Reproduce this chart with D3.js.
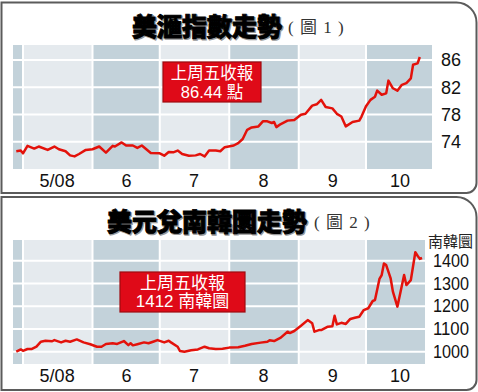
<!DOCTYPE html>
<html>
<head>
<meta charset="utf-8">
<script src="https://cdn.jsdelivr.net/npm/d3@7"></script>
<style>
  body { margin: 0; background: #fff; }
  svg { display: block; }
</style>
</head>
<body>
<div id="chart"></div>
<script>
// US dollar index, closing values
const dxyDates = [
  "2008-04-28", "2008-04-30", "2008-05-01", "2008-05-03", "2008-05-06", "2008-05-08", "2008-05-12", "2008-05-15",
  "2008-05-17", "2008-05-20", "2008-05-22", "2008-05-24", "2008-05-26", "2008-05-29",
  "2008-06-01", "2008-06-04", "2008-06-07", "2008-06-10", "2008-06-11", "2008-06-14", "2008-06-16", "2008-06-19",
  "2008-06-21", "2008-06-23", "2008-06-25", "2008-06-27",
  "2008-07-01", "2008-07-03", "2008-07-05", "2008-07-07", "2008-07-09", "2008-07-11", "2008-07-14", "2008-07-17",
  "2008-07-19", "2008-07-21", "2008-07-23", "2008-07-26", "2008-07-28", "2008-07-30",
  "2008-08-03", "2008-08-05", "2008-08-07", "2008-08-09", "2008-08-11", "2008-08-14", "2008-08-16", "2008-08-18",
  "2008-08-20", "2008-08-21", "2008-08-22", "2008-08-24", "2008-08-27", "2008-08-30",
  "2008-09-02", "2008-09-04", "2008-09-07", "2008-09-09", "2008-09-11", "2008-09-13", "2008-09-16", "2008-09-18",
  "2008-09-20", "2008-09-22", "2008-09-25", "2008-09-28", "2008-09-29",
  "2008-10-01", "2008-10-03", "2008-10-05", "2008-10-06", "2008-10-08", "2008-10-10", "2008-10-11", "2008-10-13",
  "2008-10-15", "2008-10-17", "2008-10-19", "2008-10-21", "2008-10-22", "2008-10-24", "2008-10-25"
];
const dxyValues = [
  72.6, 72.7, 72.3, 73.4, 73.0, 73.3, 72.8, 73.3, 72.9, 72.6,
  72.0, 71.85, 72.2, 72.8, 72.9, 73.3, 72.4, 73.4, 73.3, 73.9,
  73.45, 73.45, 73.1, 73.45, 72.9, 72.35, 72.3, 71.95, 72.5, 72.45,
  72.7, 72.2, 71.95, 72.0, 72.2, 71.85, 72.7, 72.7, 72.6, 73.2,
  73.45, 73.8, 74.4, 75.75, 76.1, 76.25, 77.0, 77.0, 76.75, 76.9,
  76.15, 76.6, 77.1, 77.2, 77.95, 78.1, 79.3, 79.5, 80.15, 79.1,
  78.9, 78.1, 77.7, 76.25, 76.9, 77.1, 77.7, 79.2, 80.15, 80.6,
  81.5, 80.9, 81.1, 82.97, 81.85, 81.5, 82.35, 82.6, 83.3, 85.3,
  85.5, 86.44
];

// USD / KRW
const krwDates = [
  "2008-04-28", "2008-04-30", "2008-05-01", "2008-05-03", "2008-05-05", "2008-05-07", "2008-05-09", "2008-05-11",
  "2008-05-14", "2008-05-15", "2008-05-18", "2008-05-20", "2008-05-22", "2008-05-25", "2008-05-28", "2008-05-31",
  "2008-06-03", "2008-06-05", "2008-06-07", "2008-06-10", "2008-06-12", "2008-06-15", "2008-06-17", "2008-06-18",
  "2008-06-19", "2008-06-21", "2008-06-24", "2008-06-26", "2008-06-28", "2008-06-30",
  "2008-07-03", "2008-07-05", "2008-07-06", "2008-07-09", "2008-07-10", "2008-07-12", "2008-07-15", "2008-07-18",
  "2008-07-21", "2008-07-23", "2008-07-26", "2008-07-29",
  "2008-08-01", "2008-08-05", "2008-08-08", "2008-08-11", "2008-08-15", "2008-08-18", "2008-08-19", "2008-08-21",
  "2008-08-24", "2008-08-27", "2008-08-28", "2008-08-30",
  "2008-09-02", "2008-09-05", "2008-09-07", "2008-09-08", "2008-09-10", "2008-09-11", "2008-09-14", "2008-09-16",
  "2008-09-17", "2008-09-18", "2008-09-20", "2008-09-22", "2008-09-24", "2008-09-26", "2008-09-28", "2008-09-30",
  "2008-10-02", "2008-10-04", "2008-10-05", "2008-10-07", "2008-10-08", "2008-10-09", "2008-10-10", "2008-10-12",
  "2008-10-13", "2008-10-15", "2008-10-18", "2008-10-19", "2008-10-21", "2008-10-23", "2008-10-24", "2008-10-25",
  "2008-10-26"
];
const krwValues = [
  1000, 1010, 1004, 1012, 1012, 1022, 1044, 1048, 1046, 1051, 1041, 1048, 1044, 1054, 1041, 1033,
  1022, 1022, 1034, 1037, 1034, 1047, 1029, 1037, 1028, 1033, 1041, 1037, 1044, 1051,
  1041, 1048, 1041, 1022, 1003, 1000, 1006, 1010, 1022, 1015, 1012, 1013,
  1018, 1020, 1026, 1034, 1040, 1044, 1050, 1047, 1062, 1088, 1082, 1091,
  1114, 1139, 1125, 1088, 1095, 1095, 1110, 1112, 1158, 1120, 1127, 1122, 1144, 1149, 1154, 1183,
  1191, 1223, 1227, 1320, 1337, 1388, 1381, 1322, 1264, 1198, 1337, 1293, 1315, 1437, 1422, 1408, 1412
];

const monthLabels = ["5/08", "6", "7", "8", "9", "10"];
const dxyTicks = [74, 78, 82, 86];
const krwTicks = [1000, 1100, 1200, 1300, 1400];

const width = 478, height = 392;
const red = "#e3120b";
const parse = d3.timeParse("%Y-%m-%d");

const svg = d3.select("#chart").append("svg")
  .attr("width", width)
  .attr("height", height)
  .style("font-family", "'Liberation Sans', Arial, 'Noto Sans CJK TC', sans-serif");

// shared time scale: month boundaries line up in both panels
const x = d3.scaleTime()
  .domain([new Date(2008, 4, 1), new Date(2008, 9, 1)])
  .range([23, 366]);

const panels = [
  {
    top: 2.5, bottom: 193, plotTop: 45, plotBottom: 169, plotLeft: 13, plotRight: 432,
    yDomain: [70, 88.2], ticks: dxyTicks, dates: dxyDates, values: dxyValues,
    title: "美滙指數走勢", titleX: 132, titleY: 25, sub: "( 圖 1 )", subX: 288,
    box: { x: 163, y: 62, w: 98, h: 40, fs: 16.5, lines: ["上周五收報", "86.44 點"] },
    tickPad: 9, tickLen: null, unit: null
  },
  {
    top: 197, bottom: 390, plotTop: 240, plotBottom: 364, plotLeft: 13, plotRight: 425,
    yDomain: [946, 1491], ticks: krwTicks, dates: krwDates, values: krwValues,
    title: "美元兌南韓圜走勢", titleX: 107, titleY: 220, sub: "( 圖 2 )", subX: 314,
    box: { x: 120, y: 272, w: 125, h: 40, fs: 17, lines: ["上周五收報", "1412 南韓圜"] },
    tickPad: 8, tickLen: 36, unit: "南韓圜"
  }
];

panels.forEach(p => {
  const g = svg.append("g");

  // rounded frame
  const r1 = 20, r2 = 10, L = 1.5, R = 476.5;
  g.append("path")
    .attr("d", `M${L},${p.top} H${R - r1} A${r1},${r1} 0 0 1 ${R},${p.top + r1} V${p.bottom - r2} A${r2},${r2} 0 0 1 ${R - r2},${p.bottom} H${L} Z`)
    .attr("fill", "#fff")
    .attr("stroke", "#5b5b5b")
    .attr("stroke-width", 2);

  // title
  const titleFont = "'Noto Sans CJK TC', sans-serif";
  g.append("text")
    .attr("x", p.titleX + 1).attr("y", p.titleY + 1)
    .attr("dominant-baseline", "central")
    .style("font-family", titleFont).style("font-size", "25px").style("font-weight", 900)
    .attr("fill", "#999").attr("stroke", "#999").attr("stroke-width", 1.5)
    .text(p.title);
  g.append("text")
    .attr("x", p.titleX).attr("y", p.titleY)
    .attr("dominant-baseline", "central")
    .style("font-family", titleFont).style("font-size", "25px").style("font-weight", 900)
    .attr("fill", "#000").attr("stroke", "#000").attr("stroke-width", 0.9)
    .text(p.title);
  g.append("text")
    .attr("x", p.subX).attr("y", p.titleY + 2)
    .attr("dominant-baseline", "central")
    .style("font-family", "'Liberation Serif', 'Noto Sans CJK TC', serif")
    .style("font-size", "17px").style("letter-spacing", "1px")
    .attr("fill", "#333")
    .text(p.sub);

  const y = d3.scaleLinear().domain(p.yDomain).range([p.plotBottom, p.plotTop]);

  // month bands
  const months = d3.timeMonth.range(new Date(2008, 3, 1), new Date(2008, 10, 1));
  g.append("g").selectAll("rect")
    .data(months)
    .join("rect")
    .attr("x", d => Math.max(p.plotLeft, x(d)))
    .attr("width", d => Math.min(p.plotRight, x(d3.timeMonth.offset(d, 1))) - Math.max(p.plotLeft, x(d)))
    .attr("y", p.plotTop)
    .attr("height", p.plotBottom - p.plotTop)
    .attr("fill", (d, i) => i % 2 === 0 ? "#c3d2da" : "#e5eaee");

  // white grid
  g.append("g").selectAll("line")
    .data(p.ticks)
    .join("line")
    .attr("x1", p.plotLeft).attr("x2", p.plotRight)
    .attr("y1", d => y(d)).attr("y2", d => y(d))
    .attr("stroke", "#fff").attr("stroke-width", 2);
  g.append("g").selectAll("line")
    .data(months.slice(1))
    .join("line")
    .attr("x1", d => x(d)).attr("x2", d => x(d))
    .attr("y1", p.plotTop).attr("y2", p.plotBottom)
    .attr("stroke", "#fff").attr("stroke-width", 2);

  // axes
  const xAxis = g.append("g")
    .attr("transform", `translate(0,${p.plotBottom})`)
    .call(d3.axisBottom(x)
      .tickValues(months.slice(1).map(m => d3.timeDay.offset(m, 15)))
      .tickFormat((d, i) => monthLabels[i])
      .tickSize(0).tickPadding(5));
  xAxis.select(".domain").remove();
  xAxis.selectAll("text").style("font-size", "18px").attr("fill", "#111")
    .style("font-family", "'Liberation Sans', Arial, sans-serif");

  const yAxis = g.append("g")
    .attr("transform", `translate(${p.plotRight},0)`)
    .call(d3.axisRight(y).tickValues(p.ticks).tickFormat(d3.format("d"))
      .tickSize(0).tickPadding(p.tickPad));
  yAxis.select(".domain").remove();
  yAxis.selectAll("text").style("font-size", "18px").attr("fill", "#111")
    .style("font-family", "'Liberation Sans', Arial, sans-serif");
  if (p.tickLen) {
    yAxis.selectAll("text").attr("textLength", p.tickLen).attr("lengthAdjust", "spacingAndGlyphs");
  }
  if (p.unit) {
    g.append("text")
      .attr("x", 428).attr("y", p.plotTop)
      .attr("dominant-baseline", "central")
      .style("font-family", "'Noto Sans CJK TC', sans-serif").style("font-size", "15px")
      .attr("fill", "#222")
      .text(p.unit);
  }

  // series line
  const series = p.dates.map((d, i) => ({ date: parse(d), value: p.values[i] }));
  g.append("path")
    .datum(series)
    .attr("fill", "none")
    .attr("stroke", red)
    .attr("stroke-width", 2.5)
    .attr("stroke-linejoin", "round")
    .attr("d", d3.line().x(d => x(d.date)).y(d => y(d.value)));

  // last close callout
  const b = p.box;
  g.append("rect")
    .attr("x", b.x).attr("y", b.y).attr("width", b.w).attr("height", b.h)
    .attr("fill", "#df0a18").attr("stroke", "#9e0b10").attr("stroke-width", 1.2);
  g.append("g").selectAll("text")
    .data(b.lines)
    .join("text")
    .attr("x", b.x + b.w / 2)
    .attr("y", (d, i) => b.y + 11 + i * 18.5)
    .attr("text-anchor", "middle")
    .attr("dominant-baseline", "central")
    .style("font-size", b.fs + "px")
    .attr("fill", "#fff")
    .text(d => d);
});
</script>
</body>
</html>
